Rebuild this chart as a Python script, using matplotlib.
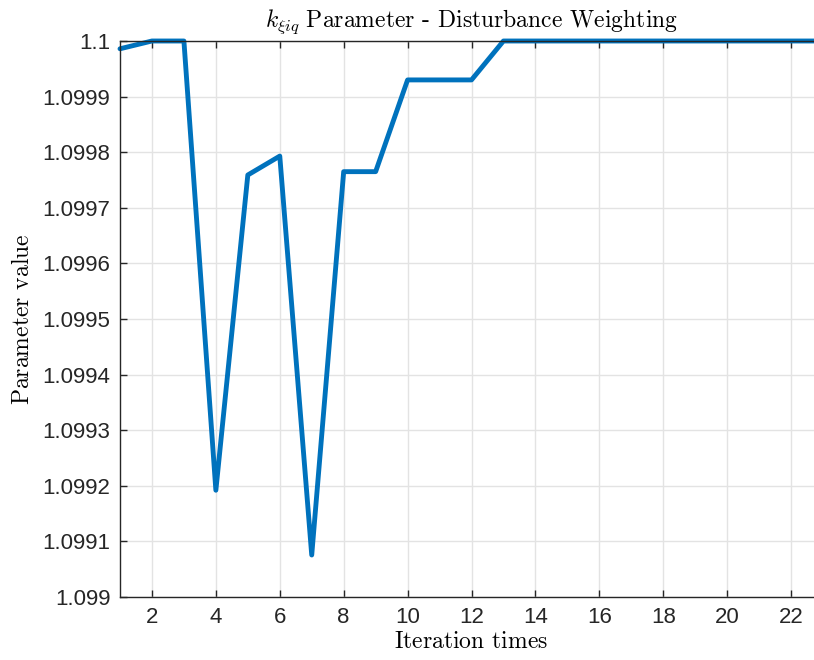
import numpy as np
import matplotlib
matplotlib.use("Agg")
import matplotlib.pyplot as plt

# Iteration history of the disturbance weighting gain
iterations = list(range(1, 24))
k_values = [
    1.099986, 1.1, 1.1, 1.099192, 1.099759, 1.099793, 1.0990755,
    1.099765, 1.099765, 1.09993, 1.09993, 1.09993,
    1.1, 1.1, 1.1, 1.1, 1.1, 1.1, 1.1, 1.1, 1.1, 1.1, 1.1,
]
y_ticks = [1.099 + 0.0001 * i for i in range(11)]
y_ticklabels = ["1.099", "1.0991", "1.0992", "1.0993", "1.0994", "1.0995",
                "1.0996", "1.0997", "1.0998", "1.0999", "1.1"]
x_ticks = list(range(2, 23, 2))

plt.rcParams["mathtext.fontset"] = "cm"
plt.rcParams["font.family"] = ["Liberation Sans", "DejaVu Sans"]

fig = plt.figure(figsize=(8.14, 6.6), dpi=100)
ax = fig.add_axes([120 / 814, 63 / 660, 703 / 814, 556 / 660])

ax.plot(iterations, k_values, color="#0072BD", linewidth=3.5,
        solid_joinstyle="round", solid_capstyle="round", clip_on=False)

ax.set_xlim(1, 23)
ax.set_ylim(1.099, 1.1)
ax.set_xticks(x_ticks)
ax.set_yticks(y_ticks)
ax.set_yticklabels(y_ticklabels)

ax.grid(True, color="#e3e3e3", linewidth=1.0)
ax.set_axisbelow(True)
ax.tick_params(direction="in", length=5, width=1.0, colors="#262626",
               labelsize=16, top=True, right=True, pad=7)
for s in ax.spines.values():
    s.set_color("#262626")
    s.set_linewidth(1.0)

ax.set_title(r"$k_{\xi iq}\ \text{Parameter - Disturbance Weighting}$",
             fontsize=17, pad=10)
ax.set_xlabel(r"$\text{Iteration times}$", fontsize=17, labelpad=2)
ax.set_ylabel(r"$\text{Parameter value}$", fontsize=17, labelpad=6)

fig.savefig("out.png", dpi=100)
